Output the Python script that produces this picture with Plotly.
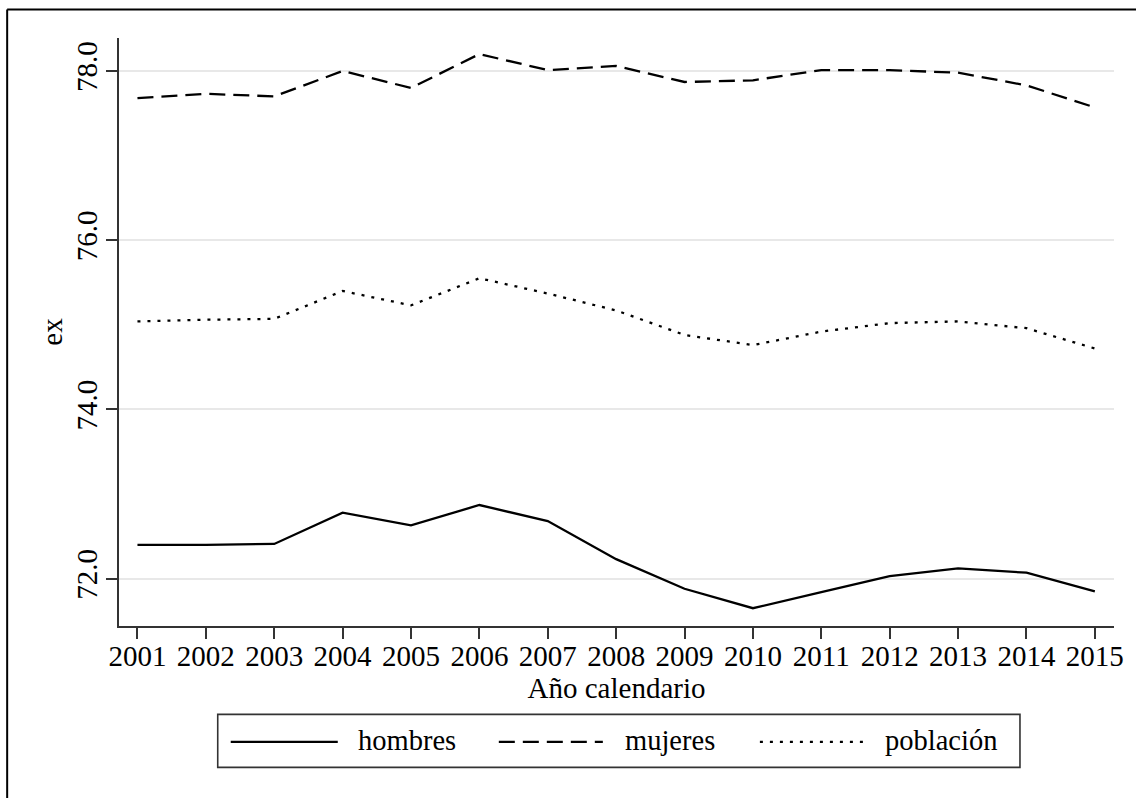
import plotly.graph_objects as go

# Esperanza de vida (ex) por año calendario
years = [2001, 2002, 2003, 2004, 2005, 2006, 2007, 2008,
         2009, 2010, 2011, 2012, 2013, 2014, 2015]
hombres = [72.40, 72.40, 72.41, 72.78, 72.63, 72.87, 72.68, 72.23,
           71.88, 71.65, 71.84, 72.03, 72.12, 72.07, 71.85]
mujeres = [77.68, 77.73, 77.70, 78.00, 77.80, 78.20, 78.01, 78.06,
           77.87, 77.89, 78.01, 78.01, 77.98, 77.83, 77.57]
poblacion = [75.04, 75.06, 75.07, 75.40, 75.23, 75.55, 75.37, 75.17,
             74.88, 74.76, 74.92, 75.02, 75.04, 74.96, 74.72]

y_ticks = [72.0, 74.0, 76.0, 78.0]
y_tick_text = ["72.0", "74.0", "76.0", "78.0"]

series_names = ["hombres", "mujeres", "población"]
series_dash = ["solid", "16px,8px", "3px,7px"]

W, H = 1136, 798
ML, MR, MT, MB = 119.3, 22, 38, 172.3
PW, PH = W - ML - MR, H - MT - MB
FONT = "Liberation Serif, Times New Roman, serif"
FS = 29
LW = 2.3


def px(xp):
    return (xp - ML) / PW


def py(yp):
    return (H - MB - yp) / PH


fig = go.Figure()
for name, vals, dash in zip(series_names, [hombres, mujeres, poblacion], series_dash):
    fig.add_trace(go.Scatter(
        x=years, y=vals, mode="lines", name=name,
        line=dict(color="black", width=LW, dash=dash),
        showlegend=False,
    ))

# Legend box drawn in pixel positions below the plot
shapes = [
    dict(type="rect", xref="paper", yref="paper",
         x0=px(218), x1=px(1020), y0=py(767), y1=py(714),
         line=dict(color="#333333", width=1.6), fillcolor="white"),
]
legend_items = [
    (231, 338, 356),
    (499, 603, 623),
    (760, 864, 883),
]
annotations = []
for (lx0, lx1, tx), name, dash in zip(legend_items, series_names, series_dash):
    shapes.append(dict(type="line", xref="paper", yref="paper",
                       x0=px(lx0), x1=px(lx1), y0=py(741.5), y1=py(741.5),
                       line=dict(color="black", width=LW, dash=dash)))
    annotations.append(dict(text=name, xref="paper", yref="paper",
                            x=px(tx), y=py(740), xanchor="left", yanchor="middle",
                            showarrow=False, font=dict(size=28.5, color="black", family=FONT)))

# Outer frame (top and left edges)
shapes.append(dict(type="line", xref="paper", yref="paper",
                   x0=px(7.5), x1=px(W + 5), y0=py(9.5), y1=py(9.5),
                   line=dict(color="black", width=2)))
shapes.append(dict(type="line", xref="paper", yref="paper",
                   x0=px(7.5), x1=px(7.5), y0=py(9.5), y1=py(H + 5),
                   line=dict(color="black", width=2)))

fig.update_layout(
    width=W, height=H,
    margin=dict(l=ML, r=MR, t=MT, b=MB, pad=0),
    paper_bgcolor="white", plot_bgcolor="white",
    font=dict(family=FONT, size=FS, color="black"),
    shapes=shapes, annotations=annotations,
    xaxis=dict(
        range=[2000.73, 2015.28],
        tickmode="array", tickvals=years, ticktext=[str(y) for y in years],
        ticks="outside", ticklen=11, tickwidth=1.6, tickcolor="#333333",
        showline=True, linecolor="#333333", linewidth=2,
        showgrid=False, zeroline=False,
        tickfont=dict(size=FS, family=FONT),
        ticklabelstandoff=-8,
        title=dict(text="Año calendario", font=dict(size=FS, family=FONT), standoff=0),
    ),
    yaxis=dict(
        range=[71.44, 78.39],
        tickmode="array", tickvals=y_ticks, ticktext=y_tick_text,
        tickangle=-90,
        ticks="outside", ticklen=11, tickwidth=1.6, tickcolor="#333333",
        showline=True, linecolor="#333333", linewidth=2,
        showgrid=True, gridcolor="#e8e8e8", gridwidth=2,
        zeroline=False,
        tickfont=dict(size=FS, family=FONT),
        ticklabelstandoff=-3,
        title=dict(text="ex", font=dict(size=FS, family=FONT), standoff=0),
    ),
)

fig.write_html("out.html")
